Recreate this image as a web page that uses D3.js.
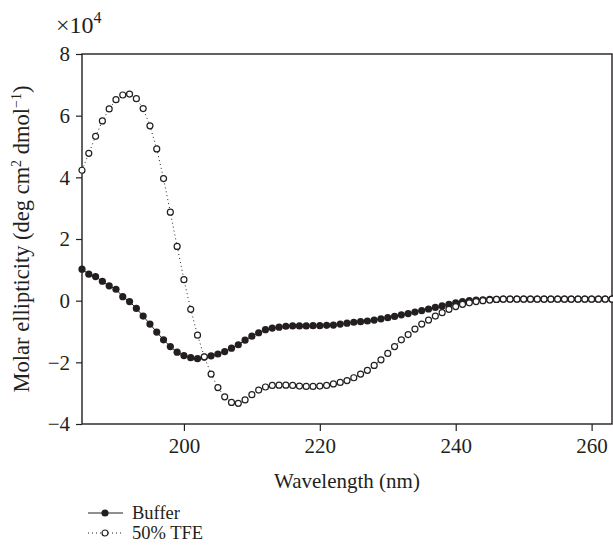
<!DOCTYPE html>
<html>
<head>
<meta charset="utf-8">
<script src="https://cdn.jsdelivr.net/npm/d3@7"></script>
<style>
  body { margin: 0; background: #fff; }
  svg text { font-family: "Liberation Serif", "DejaVu Serif", serif; fill: #231f20; }
</style>
</head>
<body>
<div class="chart"></div>
<script>
// wavelength steps, 1 nm apart
var wavelengths = d3.range(185, 264);

// molar ellipticity, x10^4
var bufferValues = [
  1.02, 0.86, 0.78, 0.63, 0.48, 0.37, 0.13, -0.03, -0.25, -0.50,
  -0.76, -1.02, -1.27, -1.49, -1.67, -1.78, -1.85, -1.88, -1.83, -1.79,
  -1.73, -1.65, -1.54, -1.43, -1.28, -1.15, -1.04, -0.94, -0.89, -0.86,
  -0.83, -0.82, -0.82, -0.82, -0.81, -0.81, -0.80, -0.79, -0.76, -0.73,
  -0.70, -0.68, -0.66, -0.63, -0.59, -0.55, -0.51, -0.46, -0.42, -0.37,
  -0.32, -0.27, -0.22, -0.17, -0.12, -0.07, -0.03, 0.00, 0.02, 0.03,
  0.04, 0.04, 0.05, 0.05, 0.05, 0.05, 0.05, 0.05, 0.05, 0.05,
  0.05, 0.05, 0.05, 0.05, 0.05, 0.05, 0.05, 0.05, 0.05
];
var tfeValues = [
  4.23, 4.78, 5.33, 5.83, 6.22, 6.52, 6.67, 6.70, 6.55, 6.23,
  5.67, 4.92, 3.96, 2.87, 1.76, 0.68, -0.28, -1.12, -1.82, -2.38,
  -2.82, -3.12, -3.30, -3.33, -3.22, -3.05, -2.90, -2.80, -2.75, -2.74,
  -2.74, -2.75, -2.77, -2.78, -2.78, -2.77, -2.75, -2.70, -2.65, -2.59,
  -2.50, -2.38, -2.26, -2.10, -1.92, -1.71, -1.49, -1.27, -1.10, -0.92,
  -0.76, -0.63, -0.50, -0.39, -0.28, -0.19, -0.12, -0.07, -0.03, 0.00,
  0.02, 0.04, 0.05, 0.05, 0.05, 0.05, 0.05, 0.05, 0.05, 0.05,
  0.05, 0.05, 0.05, 0.05, 0.05, 0.05, 0.05, 0.05, 0.05
];
var xTicks = [200, 220, 240, 260];
var yTicks = [-4, -2, 0, 2, 4, 6, 8];
var seriesNames = ["Buffer", "50% TFE"];

var svgWidth = 613;
var svgHeight = 545;
var margin = {top: 54, right: 1, bottom: 121, left: 82};
var width = svgWidth - margin.left - margin.right;
var height = svgHeight - margin.top - margin.bottom;
var ink = "#231f20";
var fs = 21;

var svg = d3.select(".chart")
  .append("svg")
  .attr("width", svgWidth)
  .attr("height", svgHeight);

var chartGroup = svg.append("g")
  .attr("transform", `translate(${margin.left}, ${margin.top})`);

var xScale = d3.scaleLinear().domain([185, 263]).range([0, width]);
var yScale = d3.scaleLinear().domain([-4, 8]).range([height, 0]);

var bufferData = wavelengths.map((w, i) => ({x: w, y: bufferValues[i]}));
var tfeData = wavelengths.map((w, i) => ({x: w, y: tfeValues[i]}));

// axes
var bottomAxis = d3.axisBottom(xScale).tickValues(xTicks).tickSize(7).tickPadding(7);
var leftAxis = d3.axisLeft(yScale).tickValues(yTicks).tickSize(6).tickPadding(6)
  .tickFormat(d => d < 0 ? "\u2212" + Math.abs(d) : d);

var xg = chartGroup.append("g")
  .attr("transform", `translate(0, ${height})`)
  .call(bottomAxis);
var yg = chartGroup.append("g").call(leftAxis);

[xg, yg].forEach(function(g) {
  g.select(".domain").remove();
  g.selectAll("line").attr("stroke", ink).attr("stroke-width", 1.2);
  g.selectAll("text").attr("font-size", fs).attr("fill", ink)
    .style("font-family", "Liberation Serif, serif");
});

// frame
chartGroup.append("rect")
  .attr("x", 0).attr("y", 0)
  .attr("width", width).attr("height", height)
  .attr("fill", "none")
  .attr("stroke", ink)
  .attr("stroke-width", 1.4);

var line = d3.line().x(d => xScale(d.x)).y(d => yScale(d.y));

// buffer: solid line with filled dots
chartGroup.append("path")
  .datum(bufferData)
  .attr("d", line)
  .attr("fill", "none")
  .attr("stroke", ink)
  .attr("stroke-width", 1);

chartGroup.selectAll(".buf")
  .data(bufferData)
  .enter()
  .append("circle")
  .attr("class", "buf")
  .attr("cx", d => xScale(d.x))
  .attr("cy", d => yScale(d.y))
  .attr("r", 3.6)
  .attr("fill", ink);

// TFE: dotted line with open dots
chartGroup.append("path")
  .datum(tfeData)
  .attr("d", line)
  .attr("fill", "none")
  .attr("stroke", ink)
  .attr("stroke-width", 1)
  .attr("stroke-dasharray", "1,3");

chartGroup.selectAll(".tfe")
  .data(tfeData)
  .enter()
  .append("circle")
  .attr("class", "tfe")
  .attr("cx", d => xScale(d.x))
  .attr("cy", d => yScale(d.y))
  .attr("r", 3)
  .attr("fill", "#fff")
  .attr("stroke", ink)
  .attr("stroke-width", 1.2);

// labels
svg.append("text")
  .attr("transform", `translate(29, ${margin.top + height / 2}) rotate(-90)`)
  .attr("text-anchor", "middle")
  .style("font-size", "22.5px")
  .html("Molar ellipticity (deg cm<tspan dy='-8' style='font-size:14px'>2</tspan><tspan dy='8'> dmol</tspan><tspan dy='-8' style='font-size:14px'>\u22121</tspan><tspan dy='8'>)</tspan>");

svg.append("text")
  .attr("x", margin.left + width / 2)
  .attr("y", 488)
  .attr("text-anchor", "middle")
  .style("font-size", fs + "px")
  .text("Wavelength (nm)");

svg.append("text")
  .attr("x", 56)
  .attr("y", 33)
  .style("font-size", "24px")
  .html("\u00d710<tspan dy='-10' style='font-size:16px'>4</tspan>");

// legend
var legend = svg.append("g").attr("transform", "translate(88, 513)");
seriesNames.forEach(function(name, i) {
  var row = legend.append("g").attr("transform", `translate(0, ${i * 20})`);
  row.append("line")
    .attr("x1", 0).attr("x2", 35)
    .attr("stroke", ink)
    .attr("stroke-width", 1)
    .attr("stroke-dasharray", i === 0 ? null : "1,3");
  row.append("circle")
    .attr("cx", 17).attr("r", i === 0 ? 3.6 : 3)
    .attr("fill", i === 0 ? ink : "#fff")
    .attr("stroke", ink)
    .attr("stroke-width", i === 0 ? 0 : 1.2);
  row.append("text")
    .attr("x", 44).attr("y", 6)
    .style("font-size", "18.5px")
    .text(name);
});
</script>
</body>
</html>
